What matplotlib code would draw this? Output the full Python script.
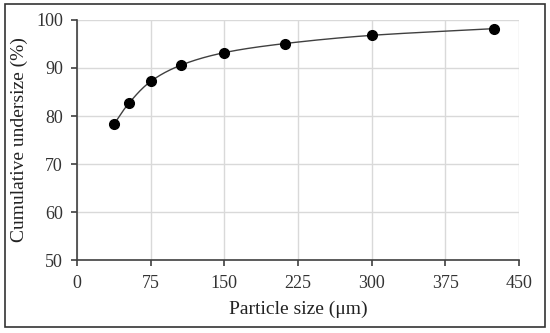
import numpy as np
import matplotlib
matplotlib.use("Agg")
import matplotlib.pyplot as plt
from matplotlib.patches import Rectangle

size_um = [38, 53, 75, 106, 150, 212, 300, 425]
undersize = [78.4, 82.7, 87.2, 90.6, 93.2, 95.1, 96.8, 98.2]
xticks = [0, 75, 150, 225, 300, 375, 450]
yticks = [50, 60, 70, 80, 90, 100]

plt.rcParams['font.family'] = ['Liberation Serif', 'DejaVu Serif']

def catmull_rom(x, y, n=30):
    x = np.asarray(x, float); y = np.asarray(y, float)
    px = np.concatenate([[2*x[0]-x[1]], x, [2*x[-1]-x[-2]]])
    py = np.concatenate([[2*y[0]-y[1]], y, [2*y[-1]-y[-2]]])
    xs, ys = [], []
    t = np.linspace(0, 1, n)
    for i in range(1, len(px)-2):
        for p, out in ((px, xs), (py, ys)):
            p0, p1, p2, p3 = p[i-1], p[i], p[i+1], p[i+2]
            out.extend(0.5*((2*p1) + (-p0+p2)*t + (2*p0-5*p1+4*p2-p3)*t**2 + (-p0+3*p1-3*p2+p3)*t**3))
    return np.array(xs), np.array(ys)

fig = plt.figure(figsize=(5.5, 3.33), dpi=100)
ax = fig.add_axes([0.14, 0.219, 0.8036, 0.721])

cx, cy = catmull_rom(size_um, undersize)
ax.plot(cx, cy, color='#404040', lw=1.0, zorder=2)
ax.plot(size_um, undersize, 'o', color='black', ms=7, zorder=3)

ax.set_xlim(0, 450)
ax.set_ylim(50, 100)
ax.set_xticks(xticks)
ax.set_yticks(yticks)
ax.grid(True, color='#d9d9d9', lw=1.0)
ax.set_axisbelow(True)
for s in ['top', 'right']:
    ax.spines[s].set_visible(False)
for s in ['left', 'bottom']:
    ax.spines[s].set_color('#404040')
    ax.spines[s].set_linewidth(1.2)
ax.tick_params(direction='out', length=4, width=1.2, color='#404040', labelsize=13, labelcolor='#333333')
ax.tick_params(axis='y', pad=6)
ax.tick_params(axis='x', pad=7)
ax.set_xlabel('Particle size (μm)', fontsize=14, color='#222222', labelpad=6)
ax.set_ylabel('Cumulative undersize (%)', fontsize=14, color='#222222', labelpad=6)

fig.patches.append(Rectangle((5/550, 1-327/333), 540/550, 323/333, transform=fig.transFigure,
                             fill=False, edgecolor='#333333', lw=1.2))

fig.savefig('out.png', dpi=100)
